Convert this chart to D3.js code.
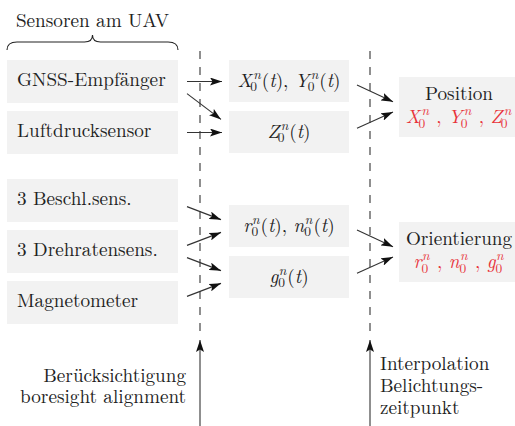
<!DOCTYPE html>
<html>
<head>
<meta charset="utf-8">
<script src="https://cdn.jsdelivr.net/npm/d3@7"></script>
<style>
  html, body { margin: 0; padding: 0; background: #fff; }
  svg { display: block; }
  text { font-family: "Latin Modern Roman", "CMU Serif", "Times New Roman", serif; }
</style>
</head>
<body>
<svg id="chart" width="515" height="426"></svg>
<script>
// ---- data ----
const title = "Sensoren am UAV";
const sensorLabels = ["GNSS-Empfänger", "Luftdrucksensor", "3 Beschl.sens.", "3 Drehratensens.", "Magnetometer"];
// formulas as token lists: [base, sup, sub, italic]
const midFormulas = [
  [["X","n","0"], ["(",null,null,false], ["t"], ["),",null,null,false], [" ",null,null,false], ["Y","n","0"], ["(",null,null,false], ["t"], [")",null,null,false]],
  [["Z","n","0"], ["(",null,null,false], ["t"], [")",null,null,false]],
  [["r","n","0"], ["(",null,null,false], ["t"], ["),",null,null,false], [" ",null,null,false], ["n","n","0"], ["(",null,null,false], ["t"], [")",null,null,false]],
  [["g","n","0"], ["(",null,null,false], ["t"], [")",null,null,false]]
];
const resultTitles = ["Position", "Orientierung"];
const resultFormulas = [
  [["X","n","0"], [" , ",null,null,false], ["Y","n","0"], [" , ",null,null,false], ["Z","n","0"]],
  [["r","n","0"], [" , ",null,null,false], ["n","n","0"], [" , ",null,null,false], ["g","n","0"]]
];
// connections: [from, to]
const sensorToMid = [[0,0],[0,1],[1,1],[2,2],[3,2],[3,3],[4,3]];
const midToResult = [[0,0],[1,0],[2,1],[3,1]];
const leftNote = ["Berücksichtigung", "boresight alignment"];
const rightNote = ["Interpolation", "Belichtungs-", "zeitpunkt"];

// ---- style ----
const FONT = 19.2;
const TXT = "#222";
const RED = "#e8333b";
const FILL = "#f2f2f2";
const LINE = "#333";

const svg = d3.select("#chart");

svg.append("defs").append("marker")
  .attr("id", "ah").attr("viewBox", "0 0 12 8")
  .attr("refX", 12).attr("refY", 4)
  .attr("markerWidth", 12).attr("markerHeight", 8)
  .attr("markerUnits", "userSpaceOnUse")
  .attr("orient", "auto")
  .append("path").attr("d", "M0,0 L12,4 L0,8 L2.5,4 Z").attr("fill", "#111");

// ---- layout ----
const leftX = 7, leftW = 171, boxH = 43;
const leftTops = d3.scaleOrdinal().domain([0,1,2,3,4]).range([60, 111, 179, 230, 281]);
const midX = 229, midW = 120, midH = 42;
const midTops = d3.scaleOrdinal().domain([0,1,2,3]).range([60, 111, 205, 256]);
const resX = 399, resW = 116, resH = 60;
const resTops = d3.scaleOrdinal().domain([0,1]).range([77, 222]);
const dashX1 = 200, dashX2 = 370;

// ---- brace + title ----
svg.append("text").attr("x", leftX + leftW/2).attr("y", 27)
  .attr("text-anchor", "middle").attr("font-size", FONT).attr("fill", TXT).text(title);
const bx0 = leftX, bx1 = leftX + leftW, bm = (bx0 + bx1)/2;
svg.append("path")
  .attr("d", `M${bx0},50 Q${bx0},42 ${bx0+10},42 L${bm-8},42 Q${bm},42 ${bm},35 Q${bm},42 ${bm+8},42 L${bx1-10},42 Q${bx1},42 ${bx1},50`)
  .attr("fill", "none").attr("stroke", TXT).attr("stroke-width", 1.1);

// ---- dashed lines + bottom arrows ----
[dashX1, dashX2].forEach(x => {
  svg.append("line").attr("x1", x).attr("x2", x).attr("y1", 51).attr("y2", 336)
    .attr("stroke", LINE).attr("stroke-width", 1.1).attr("stroke-dasharray", "8,8");
  svg.append("line").attr("x1", x).attr("x2", x).attr("y1", 426).attr("y2", 340)
    .attr("stroke", LINE).attr("stroke-width", 1.1).attr("marker-end", "url(#ah)");
});

// ---- sensor boxes ----
sensorLabels.forEach((lab, i) => {
  const y = leftTops(i);
  svg.append("rect").attr("x", leftX).attr("y", y).attr("width", leftW).attr("height", boxH).attr("fill", FILL);
  svg.append("text").attr("x", leftX + 10).attr("y", y + boxH/2 + 4.5)
    .attr("font-size", FONT).attr("fill", TXT).text(lab);
});

// measure helper
function measure(str, size, italic) {
  const t = svg.append("text").attr("font-size", size)
    .attr("font-style", italic ? "italic" : "normal").style("white-space", "pre").text(str);
  const w = t.node().getComputedTextLength();
  t.remove();
  return w;
}

// math renderer: one <text> element with tspans
function drawMath(tokens, cx, baseY, color) {
  const ss = FONT * 0.7;
  const supShift = -FONT * 0.4, subShift = FONT * 0.26;
  const parts = [];
  let total = 0;
  tokens.forEach(([base, sup, sub, ital]) => {
    const italic = ital !== false;
    const bw = measure(base, FONT, italic);
    parts.push({ s: base, size: FONT, italic, off: 0, dx: 0 });
    total += bw;
    if (sup || sub) {
      const big = italic && /[XYZ]/.test(base);
      const supKern = big ? 1.5 : 0.5;
      const subKern = big ? -1.5 : 0;
      const supW = measure(sup, ss, true);
      const subW = measure(sub, ss, false);
      parts.push({ s: sup, size: ss, italic: true, off: supShift, dx: supKern });
      const subDx = -(supKern + supW) + subKern;
      parts.push({ s: sub, size: ss, italic: false, off: subShift, dx: subDx });
      const after = Math.max(supW + supKern, subW + subKern) + 1;
      const subEnd = subKern + subW;
      parts.push({ pad: after - subEnd });
      total += after;
    }
  });
  const t = svg.append("text").attr("x", cx - total/2).attr("y", baseY)
    .attr("fill", color).style("white-space", "pre");
  let cur = 0, pendingDx = 0;
  parts.forEach(p => {
    if (p.pad !== undefined) { pendingDx += p.pad; return; }
    t.append("tspan")
      .attr("font-size", p.size)
      .attr("font-style", p.italic ? "italic" : "normal")
      .attr("dx", p.dx + pendingDx)
      .attr("dy", p.off - cur)
      .text(p.s);
    pendingDx = 0;
    cur = p.off;
  });
  return t;
}

// ---- middle boxes ----
midFormulas.forEach((f, i) => {
  const y = midTops(i);
  svg.append("rect").attr("x", midX).attr("y", y).attr("width", midW).attr("height", midH).attr("fill", FILL);
  drawMath(f, midX + midW/2, y + midH/2 + 5.5, TXT);
});

// ---- result boxes ----
resultTitles.forEach((t, i) => {
  const y = resTops(i);
  svg.append("rect").attr("x", resX).attr("y", y).attr("width", resW).attr("height", resH).attr("fill", FILL);
  svg.append("text").attr("x", resX + resW/2 + 2).attr("y", y + 23)
    .attr("text-anchor", "middle").attr("font-size", FONT).attr("fill", TXT).text(t);
  drawMath(resultFormulas[i], resX + resW/2 + 2, y + 46, RED);
});

// ---- arrows ----
function arrow(x1, y1, x2, y2) {
  svg.append("line").attr("x1", x1).attr("y1", y1).attr("x2", x2).attr("y2", y2)
    .attr("stroke", LINE).attr("stroke-width", 1.1).attr("marker-end", "url(#ah)");
}
sensorToMid.forEach(([s, t]) => {
  const sc = leftTops(s) + boxH/2, tc = midTops(t) + midH/2;
  const d = tc - sc;
  if (Math.abs(d) < 3) arrow(187, sc, 222, sc);
  else arrow(187, sc + 0.24*d, 221, tc - 0.25*d);
});
midToResult.forEach(([s, t]) => {
  const sc = midTops(s) + midH/2, tc = resTops(t) + resH/2;
  const d = tc - sc;
  arrow(357, sc + 0.15*d, 393, tc - 0.2*d);
});

// ---- notes ----
leftNote.forEach((t, i) => {
  svg.append("text").attr("x", 186).attr("y", 382 + i*21)
    .attr("text-anchor", "end").attr("font-size", FONT).attr("fill", TXT).text(t);
});
rightNote.forEach((t, i) => {
  svg.append("text").attr("x", 380).attr("y", 370 + i*22)
    .attr("font-size", FONT).attr("fill", TXT).text(t);
});
</script>
</body>
</html>
